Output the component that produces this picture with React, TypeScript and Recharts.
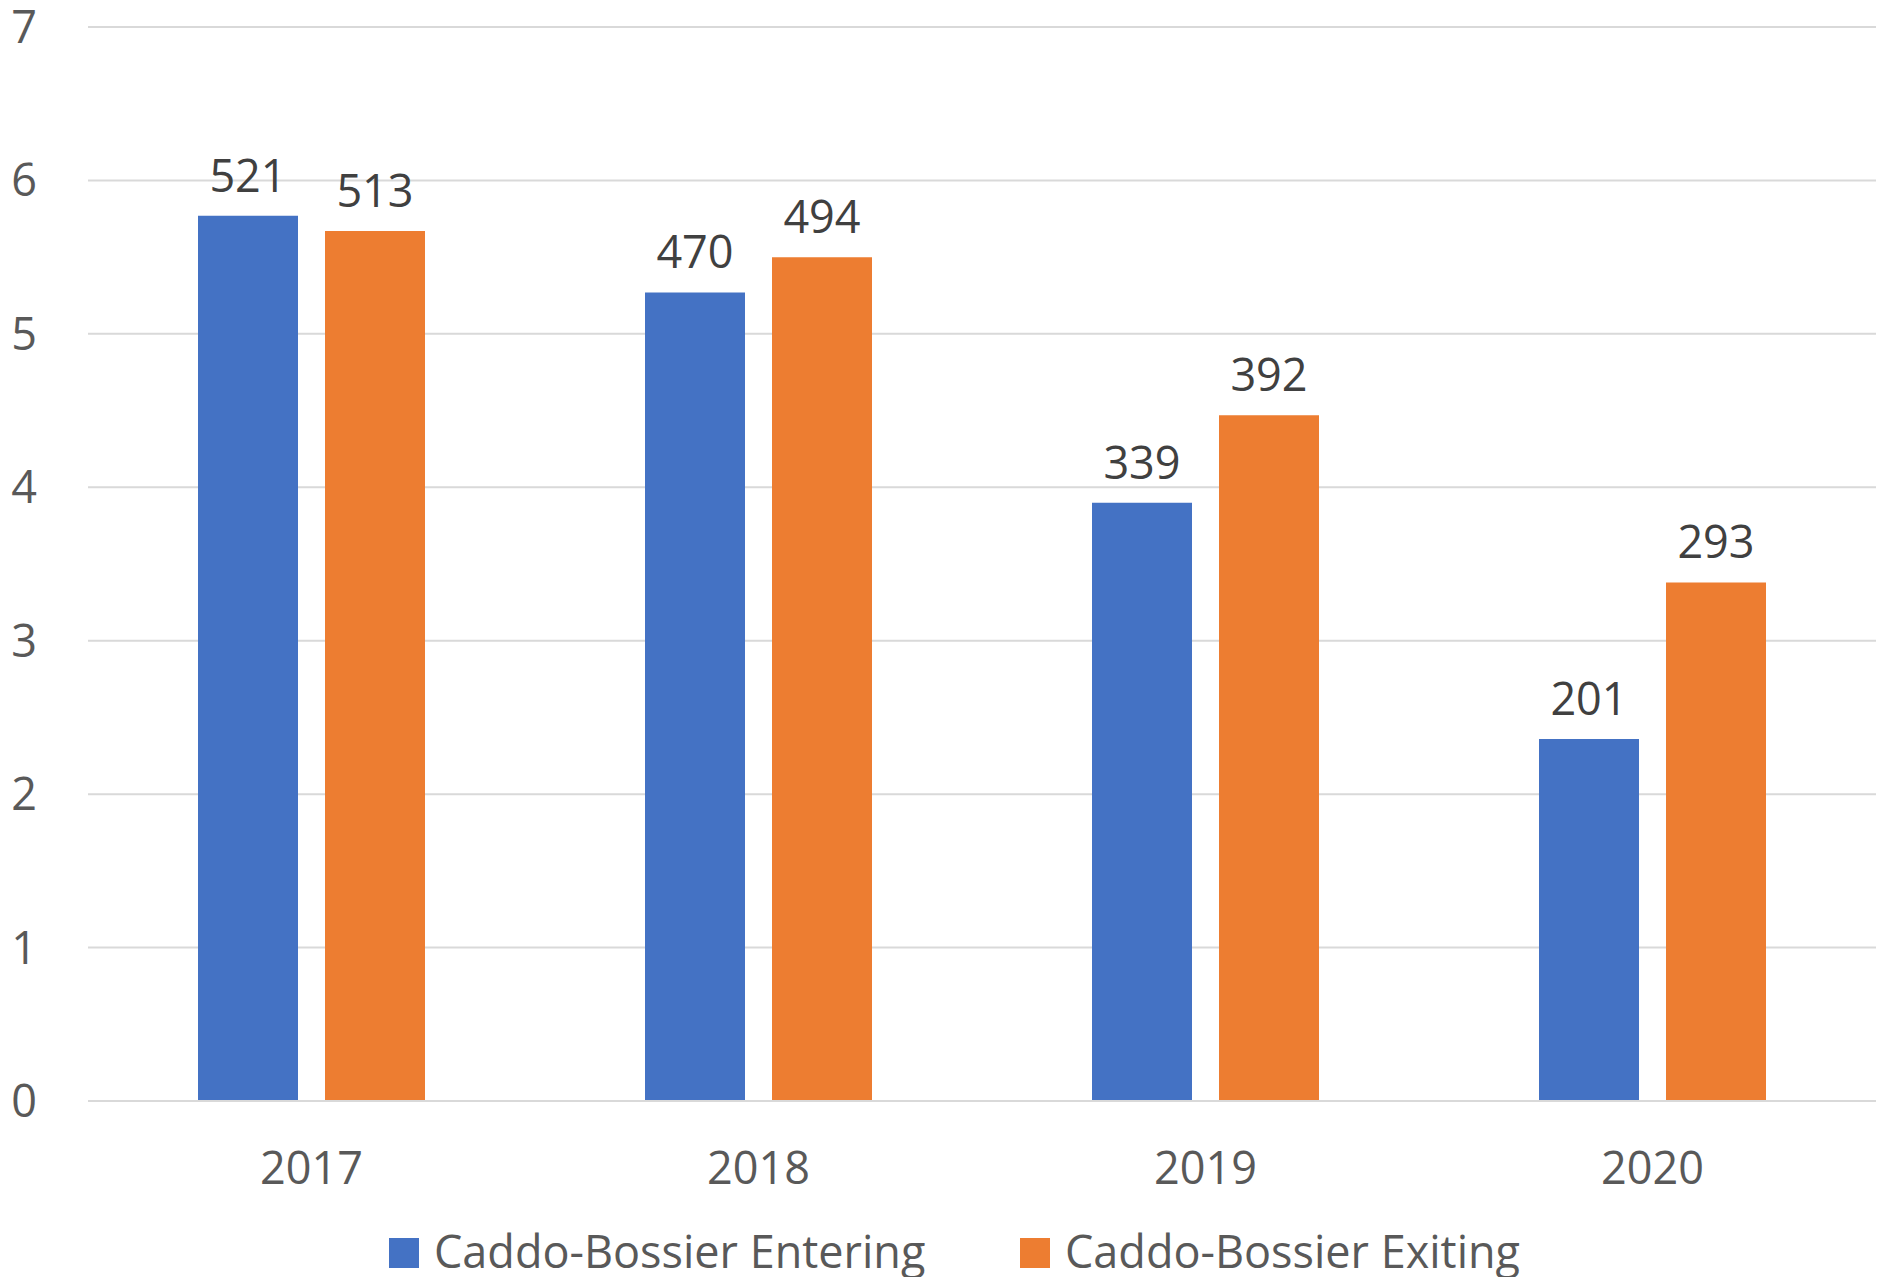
import React from 'react';
import { BarChart, Bar, XAxis, YAxis, CartesianGrid, Legend, LabelList } from 'recharts';

const years = ['2017', '2018', '2019', '2020'];
const enteringValues = [5.77, 5.27, 3.9, 2.36];
const exitingValues = [5.67, 5.5, 4.47, 3.38];
const enteringLabels = [521, 470, 339, 201];
const exitingLabels = [513, 494, 392, 293];
const yTicks = [0, 1, 2, 3, 4, 5, 6, 7];
const seriesNames = ['Caddo-Bossier Entering', 'Caddo-Bossier Exiting'];
const seriesColors = ['#4472C4', '#ED7D31'];

const data = years.map((year, i) => ({
  year,
  entering: enteringValues[i],
  exiting: exitingValues[i],
  enteringLabel: enteringLabels[i],
  exitingLabel: exitingLabels[i],
}));

const FONT = '"Open Sans", sans-serif';

const LegendContent = () => (
  <div style={{ height: 56, display: 'flex', alignItems: 'flex-start', fontFamily: FONT }}>
    {seriesNames.map((name, i) => (
      <div
        key={name}
        style={{
          display: 'flex',
          alignItems: 'flex-start',
          marginLeft: i === 0 ? 389 : 0,
          width: i === 0 ? 631 : 'auto',
        }}
      >
        <div style={{ width: 30, height: 30, marginTop: 17, background: seriesColors[i] }} />
        <div
          style={{
            marginLeft: 15,
            fontSize: 45,
            lineHeight: '56px',
            color: '#595959',
            position: 'relative',
            top: 1.5,
            whiteSpace: 'nowrap',
          }}
        >
          {name}
        </div>
      </div>
    ))}
  </div>
);

export default function App() {
  return (
    <div style={{ position: 'absolute', left: 0, top: 0, background: '#fff' }}>
      <BarChart
        width={1883}
        height={1277}
        data={data}
        margin={{ top: 27, right: 7, left: 0, bottom: 0 }}
        barSize={100}
        barGap={27}
      >
        <CartesianGrid vertical={false} stroke="#D9D9D9" strokeWidth={2} />
        <XAxis
          dataKey="year"
          height={120}
          tickLine={false}
          tickSize={0}
          tickMargin={51}
          axisLine={{ stroke: '#D9D9D9', strokeWidth: 2 }}
          tick={{ fontSize: 45, fill: '#595959', fontFamily: FONT }}
        />
        <YAxis
          width={88}
          domain={[0, 7]}
          ticks={yTicks}
          interval={0}
          axisLine={false}
          tickLine={false}
          tickSize={0}
          tickMargin={51}
          tick={{ fontSize: 45, fill: '#595959', fontFamily: FONT }}
        />
        <Legend verticalAlign="bottom" content={<LegendContent />} />
        <Bar dataKey="entering" name={seriesNames[0]} fill={seriesColors[0]} isAnimationActive={false}>
          <LabelList
            dataKey="enteringLabel"
            position="top"
            offset={24}
            fill="#404040"
            fontSize={45}
            fontFamily={FONT}
          />
        </Bar>
        <Bar dataKey="exiting" name={seriesNames[1]} fill={seriesColors[1]} isAnimationActive={false}>
          <LabelList
            dataKey="exitingLabel"
            position="top"
            offset={24}
            fill="#404040"
            fontSize={45}
            fontFamily={FONT}
          />
        </Bar>
      </BarChart>
    </div>
  );
}
